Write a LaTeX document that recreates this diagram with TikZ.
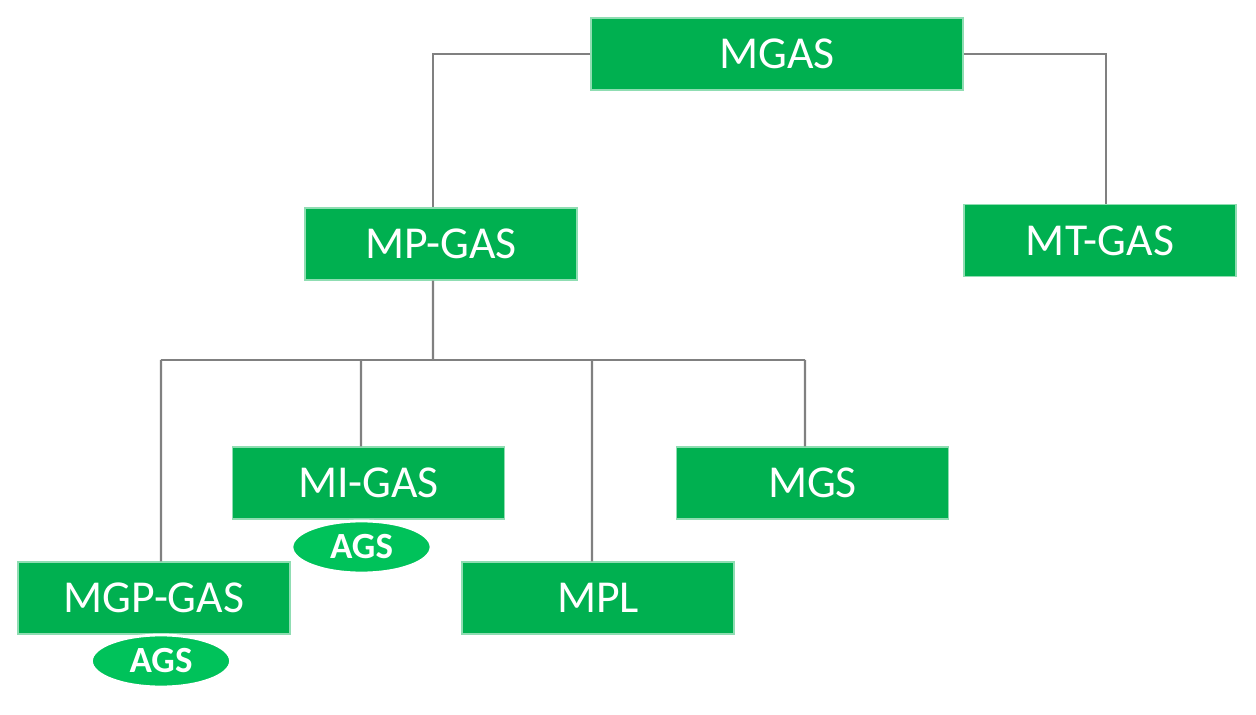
\documentclass[tikz,border=0pt]{standalone}
\usepackage{fontspec}
\setmainfont{Carlito}
\usetikzlibrary{shapes.geometric}
\definecolor{boxgreen}{HTML}{00B050}
\definecolor{ovalgreen}{HTML}{00C25A}
\definecolor{edgegreen}{HTML}{8FDDB2}
\definecolor{linegray}{HTML}{808080}
\begin{document}
\begin{tikzpicture}[x=0.01cm,y=-0.01cm,
  box/.style={rectangle,fill=boxgreen,draw=edgegreen,line width=0.4pt,text=white,
    minimum width=2.72cm,minimum height=0.72cm,inner sep=0pt,font=\fontsize{13}{15}\selectfont},
  oval/.style={ellipse,fill=ovalgreen,draw=white,line width=0.8pt,text=white,
    minimum width=1.39cm,minimum height=0.52cm,inner sep=0pt,font=\bfseries\fontsize{10.5}{12}\selectfont},
  conn/.style={draw=linegray,line width=0.6pt}]
\useasboundingbox (0,0) rectangle (1256,715);
\node[box,minimum width=3.72cm] (mgas) at (777,54) {MGAS};
\node[box] (mtgas) at (1100,240.5) {MT-GAS};
\node[box] (mpgas) at (441,244) {MP-GAS};
\node[box] (migas) at (368.5,483) {MI-GAS};
\node[box] (mgs) at (812.5,483) {MGS};
\node[box] (mgpgas) at (154,598) {MGP-GAS};
\node[box] (mpl) at (598,598) {MPL};
\node[oval] (ags1) at (361.5,547) {AGS};
\node[oval] (ags2) at (161,661) {AGS};
\coordinate (bus) at (433,360);
\coordinate (busL) at (161,360);
\coordinate (busR) at (805,360);
\draw[conn] (mgas.west) -| ([xshift=-0.08cm]mpgas.north);
\draw[conn] (mgas.east) -| ([xshift=0.06cm]mtgas.north);
\draw[conn] ([xshift=-0.08cm]mpgas.south) -- (bus);
\draw[conn] (busL) -- (busR);
\draw[conn] (busL) -- ([xshift=0.07cm]mgpgas.north);
\draw[conn] (bus -| 361,0) -- ([xshift=-0.075cm]migas.north);
\draw[conn] (bus -| 592,0) -- ([xshift=-0.06cm]mpl.north);
\draw[conn] (busR) -- ([xshift=-0.075cm]mgs.north);
\end{tikzpicture}
\end{document}
